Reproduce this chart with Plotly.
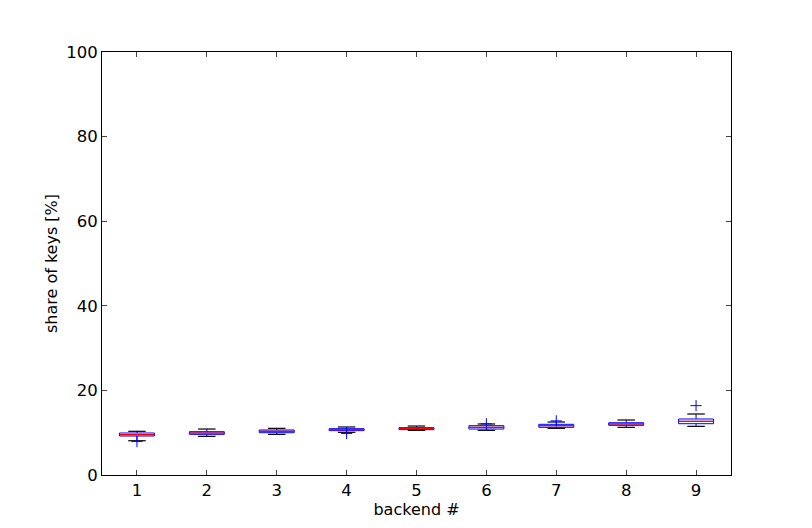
import plotly.graph_objects as go

backends = [1, 2, 3, 4, 5, 6, 7, 8, 9]
lower_whisker = [8.1, 9.14, 9.61, 10.09, 10.56, 10.56, 11.03, 11.27, 11.5]
q1 = [9.22, 9.61, 10.0, 10.48, 10.72, 10.87, 11.27, 11.74, 12.13]
median = [9.53, 9.93, 10.33, 10.72, 10.95, 11.27, 11.66, 12.06, 12.69]
q3 = [9.93, 10.24, 10.64, 10.95, 11.19, 11.66, 11.98, 12.36, 13.24]
upper_whisker = [10.33, 10.87, 11.03, 11.35, 11.58, 12.06, 12.53, 13.0, 14.42]
outlier_x = [1, 4, 6, 7, 9]
outlier_y = [7.9, 9.8, 12.1, 12.8, 16.4]

box_w = 0.5
cap_w = 0.25

fig = go.Figure()

fig.add_trace(go.Box(
    x=backends, q1=q1, median=median, q3=q3,
    lowerfence=lower_whisker, upperfence=upper_whisker,
    width=box_w, whiskerwidth=0.0,
    line=dict(color="blue", width=1),
    fillcolor="rgba(0,0,0,0)",
    hoverinfo="skip", showlegend=False,
))

# red medians
mx, my = [], []
for b, m in zip(backends, median):
    mx += [b - box_w / 2, b + box_w / 2, None]
    my += [m, m, None]
fig.add_trace(go.Scatter(x=mx, y=my, mode="lines",
                         line=dict(color="red", width=1.2), showlegend=False))

# black caps
cx, cy = [], []
for b, lo, hi in zip(backends, lower_whisker, upper_whisker):
    cx += [b - cap_w / 2, b + cap_w / 2, None, b - cap_w / 2, b + cap_w / 2, None]
    cy += [lo, lo, None, hi, hi, None]
fig.add_trace(go.Scatter(x=cx, y=cy, mode="lines",
                         line=dict(color="black", width=1.2), showlegend=False))

# fliers
fig.add_trace(go.Scatter(x=outlier_x, y=outlier_y, mode="markers",
                         marker=dict(symbol="cross-thin-open", size=8, color="blue",
                                     line=dict(color="blue", width=1)),
                         showlegend=False))

fig.update_layout(
    width=812, height=528,
    margin=dict(l=94, r=89, t=44, b=61),
    paper_bgcolor="white", plot_bgcolor="white",
    font=dict(family="DejaVu Sans", size=16.5, color="black"),
)
fig.update_xaxes(range=[0.5, 9.5], tickvals=backends, ticks="inside", ticklen=5,
                 showline=True, linecolor="black", linewidth=1, mirror="ticks",
                 showgrid=False, zeroline=False,
                 title=dict(text="backend #", standoff=4, font=dict(size=16)))
fig.update_yaxes(range=[0, 100], tickvals=[0, 20, 40, 60, 80, 100], ticks="inside", ticklen=5,
                 showline=True, linecolor="black", linewidth=1, mirror="ticks",
                 showgrid=False, zeroline=False,
                 title=dict(text="share of keys [%]", standoff=4, font=dict(size=16)))

fig.write_html("out.html")
